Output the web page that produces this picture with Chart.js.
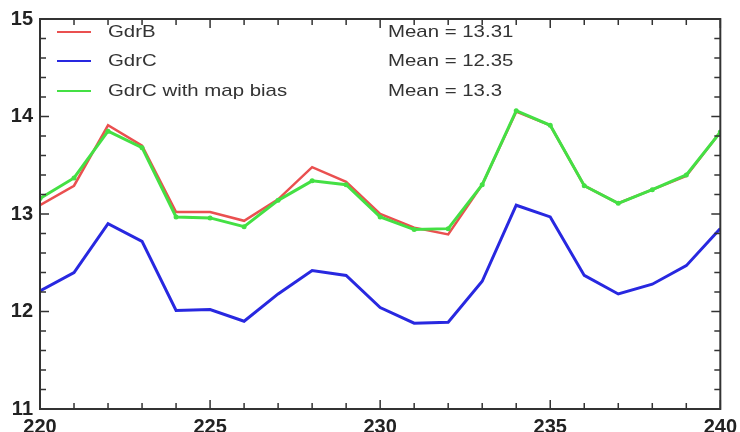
<!DOCTYPE html>
<html>
<head>
<meta charset="utf-8">
<script src="https://cdn.jsdelivr.net/npm/chart.js@4.4.0/dist/chart.umd.min.js"></script>
<style>
    html, body { margin: 0; padding: 0; background: #fff; overflow: hidden; }
    #wrap { width: 743px; height: 432px; }
</style>
</head>
<body>
<div id="wrap"><canvas id="grafico"></canvas></div>
<script>
// eje x
var cycles = [220, 221, 222, 223, 224, 225, 226, 227, 228, 229, 230,
              231, 232, 233, 234, 235, 236, 237, 238, 239, 240];

var gdrB = [13.09, 13.29, 13.91, 13.70, 13.02, 13.02, 12.93, 13.15, 13.48, 13.33, 13.00,
            12.86, 12.79, 13.30, 14.05, 13.91, 13.29, 13.11, 13.25, 13.39, 13.84];
var gdrC = [12.21, 12.40, 12.90, 12.72, 12.01, 12.02, 11.90, 12.18, 12.42, 12.37, 12.04,
            11.88, 11.89, 12.31, 13.09, 12.97, 12.37, 12.18, 12.28, 12.47, 12.85];
var gdrCBias = [13.16, 13.37, 13.85, 13.68, 12.97, 12.96, 12.87, 13.14, 13.34, 13.30, 12.97,
                12.84, 12.85, 13.30, 14.06, 13.91, 13.29, 13.11, 13.25, 13.40, 13.84];

var seriesNames = ["GdrB", "GdrC", "GdrC with map bias"];
var meanLabels = ["Mean = 13.31", "Mean = 12.35", "Mean = 13.3"];
var seriesColors = ["#ea5050", "#2828e0", "#44e044"];

var xTicks = [220, 225, 230, 235, 240];
var yTicks = [11, 12, 13, 14, 15];

function puntos(vals) {
    return cycles.map(function (c, i) { return { x: c, y: vals[i] }; });
}

//! marco, ticks internos y leyenda
var marco = {
    id: "marco",
    afterDraw: function (chart) {
        var ctx = chart.ctx;
        var a = chart.chartArea;
        var sx = chart.scales.x, sy = chart.scales.y;
        ctx.save();
        ctx.strokeStyle = "#333";
        ctx.lineWidth = 2;
        ctx.strokeRect(a.left, a.top, a.right - a.left, a.bottom - a.top);
        ctx.lineWidth = 1.5;
        ctx.beginPath();
        for (var v = 220; v <= 240; v++) {
            var px = sx.getPixelForValue(v);
            var len = (v % 5 === 0) ? 9 : 6;
            ctx.moveTo(px, a.bottom); ctx.lineTo(px, a.bottom - len);
            ctx.moveTo(px, a.top); ctx.lineTo(px, a.top + len);
        }
        for (var k = 0; k <= 20; k++) {
            var val = 11 + k * 0.2;
            var py = sy.getPixelForValue(val);
            var l2 = (k % 5 === 0) ? 9 : 6;
            ctx.moveTo(a.left, py); ctx.lineTo(a.left + l2, py);
            ctx.moveTo(a.right, py); ctx.lineTo(a.right - l2, py);
        }
        ctx.stroke();

        // leyenda
        var rows = [32, 61, 91];
        ctx.textBaseline = "middle";
        ctx.font = "17px 'Liberation Sans', Arial, sans-serif";
        for (var i = 0; i < 3; i++) {
            ctx.strokeStyle = seriesColors[i];
            ctx.lineWidth = 2;
            ctx.beginPath();
            ctx.moveTo(57, rows[i]); ctx.lineTo(91, rows[i]);
            ctx.stroke();
            ctx.fillStyle = "#333";
            ctx.save();
            ctx.translate(108, rows[i]);
            ctx.scale(1.2, 1);
            ctx.fillText(seriesNames[i], 0, 0);
            ctx.restore();
            ctx.save();
            ctx.translate(388, rows[i]);
            ctx.scale(1.2, 1);
            ctx.fillText(meanLabels[i], 0, 0);
            ctx.restore();
        }
        ctx.restore();
    }
};

document.addEventListener("DOMContentLoaded", function () {
    var ctx = document.getElementById("grafico").getContext("2d");
    var grafico = new Chart(ctx, {
        type: "line",
        data: {
            datasets: [
                {
                    label: seriesNames[0],
                    data: puntos(gdrB),
                    borderColor: seriesColors[0],
                    borderWidth: 2.5,
                    pointRadius: 0,
                    tension: 0,
                    order: 2,
                },
                {
                    label: seriesNames[1],
                    data: puntos(gdrC),
                    borderColor: seriesColors[1],
                    borderWidth: 3,
                    pointRadius: 0,
                    tension: 0,
                    order: 1,
                },
                {
                    label: seriesNames[2],
                    data: puntos(gdrCBias),
                    borderColor: seriesColors[2],
                    backgroundColor: seriesColors[2],
                    borderWidth: 3,
                    pointRadius: 2.5,
                    pointBorderWidth: 0,
                    tension: 0,
                    order: 0,
                },
            ],
        },
        options: {
            responsive: true,
            maintainAspectRatio: false,
            animation: false,
            events: [],
            layout: { padding: { top: 15, right: 0, left: 0, bottom: 0 } },
            plugins: {
                legend: { display: false },
                tooltip: { enabled: false },
            },
            scales: {
                x: {
                    type: "linear",
                    min: 220,
                    max: 240,
                    afterBuildTicks: function (s) {
                        s.ticks = xTicks.map(function (v) { return { value: v }; });
                    },
                    grid: { display: false, drawTicks: false },
                    border: { display: false },
                    ticks: {
                        padding: 6,
                        color: "#222",
                        font: { family: "'Liberation Sans', Arial, sans-serif", size: 20, weight: "bold" },
                    },
                    afterFit: function (s) { s.height = 23; },
                },
                y: {
                    min: 11,
                    max: 15,
                    afterBuildTicks: function (s) {
                        s.ticks = yTicks.map(function (v) { return { value: v }; });
                    },
                    grid: { display: false, drawTicks: false },
                    border: { display: false },
                    ticks: {
                        padding: 7,
                        color: "#222",
                        font: { family: "'Liberation Sans', Arial, sans-serif", size: 20, weight: "bold" },
                    },
                    afterFit: function (s) { s.width = 40; },
                },
            },
        },
        plugins: [marco],
    });
});
</script>
</body>
</html>
